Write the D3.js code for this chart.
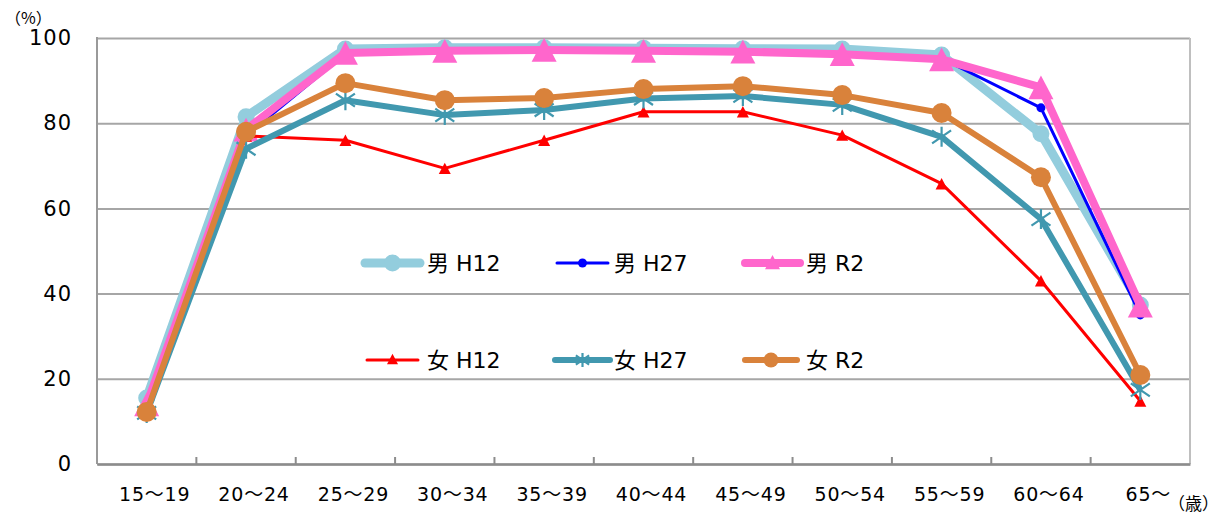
<!DOCTYPE html>
<html>
<head>
<meta charset="utf-8">
<script src="https://cdn.jsdelivr.net/npm/d3@7"></script>
<style>
  html, body { margin: 0; padding: 0; background: #fff; }
  svg { display: block; }
  text { font-family: "DejaVu Sans", "Noto Sans CJK JP", sans-serif; fill: #000; }
</style>
</head>
<body>
<svg id="chart" width="1220" height="514"></svg>
<script>
// Age groups (x axis)
const ageGroups = ["15～19", "20～24", "25～29", "30～34", "35～39", "40～44", "45～49", "50～54", "55～59", "60～64", "65～"];
const yTicks = [0, 20, 40, 60, 80, 100];

// Labour force participation rate (%) by sex and survey year
const maleH12   = [15.5, 81.5, 97.4, 97.7, 97.7, 97.6, 97.5, 97.4, 96.0, 77.5, 37.3];
const maleH27   = [14.0, 77.0, 96.3, 96.9, 97.1, 96.9, 96.7, 96.2, 95.2, 83.6, 35.0];
const maleR2    = [14.0, 78.5, 96.5, 97.0, 97.2, 97.0, 96.8, 96.2, 95.0, 88.4, 37.2];
const femaleH12 = [12.5, 77.0, 76.0, 69.4, 76.0, 82.7, 82.7, 77.2, 65.8, 43.0, 14.8];
const femaleH27 = [12.0, 74.0, 85.4, 81.9, 83.1, 85.8, 86.4, 84.3, 76.8, 57.5, 17.4];
const femaleR2  = [12.2, 78.0, 89.4, 85.4, 85.9, 88.0, 88.7, 86.6, 82.4, 67.3, 20.9];

const series = [
  { name: "男 H12", values: maleH12,   color: "#93cddd", width: 9, marker: "circle",   size: 8.5, legendSize: 8.5 },
  { name: "男 H27", values: maleH27,   color: "#0000ff", width: 3, marker: "circle",   size: 4.5, legendSize: 4.5 },
  { name: "男 R2",  values: maleR2,    color: "#ff66cc", width: 8, marker: "triangle", size: 25,  legendSize: 15 },
  { name: "女 H12", values: femaleH12, color: "#ff0000", width: 3, marker: "triangle", size: 12,  legendSize: 11 },
  { name: "女 H27", values: femaleH27, color: "#4198af", width: 6, marker: "asterisk", size: 10,  legendSize: 7 },
  { name: "女 R2",  values: femaleR2,  color: "#d9823b", width: 6, marker: "circle",   size: 10,  legendSize: 7.5 }
];

const svg = d3.select("#chart");
const plot = { left: 97, right: 1190, top: 38, bottom: 464 };

const x = d3.scaleBand().domain(ageGroups).range([plot.left, plot.right]).paddingInner(0).paddingOuter(0);
const y = d3.scaleLinear().domain([0, 100]).range([plot.bottom, plot.top]);
const cx = d => x(d) + x.bandwidth() / 2;

// Horizontal gridlines and y tick labels
const yAxis = d3.axisLeft(y).tickValues(yTicks).tickSize(-(plot.right - plot.left)).tickPadding(25);
const gy = svg.append("g").attr("transform", `translate(${plot.left},0)`).call(yAxis);
gy.select(".domain").remove();
gy.selectAll(".tick line").attr("stroke", "#a6a6a6").attr("stroke-width", 2);
gy.selectAll(".tick text")
  .attr("font-size", 21)
  .attr("letter-spacing", 1)
  .style("font-family", "'DejaVu Sans', sans-serif");

// Plot frame (right edge)
svg.append("line")
  .attr("x1", plot.right).attr("x2", plot.right)
  .attr("y1", plot.top).attr("y2", plot.bottom)
  .attr("stroke", "#bfbfbf").attr("stroke-width", 2);

// Left axis line
svg.append("line")
  .attr("x1", plot.left).attr("x2", plot.left)
  .attr("y1", plot.top - 1).attr("y2", plot.bottom)
  .attr("stroke", "#9a9a9a").attr("stroke-width", 2);

// Bottom axis with category-boundary tick marks pointing up
const gx = svg.append("g").attr("transform", `translate(0,${plot.bottom})`)
  .call(d3.axisBottom(x).tickSize(0).tickPadding(24));
gx.select(".domain").attr("stroke", "#8c8c8c").attr("stroke-width", 2.5);
gx.selectAll(".tick text")
  .attr("font-size", 19)
  .attr("dx", 8)
  .attr("letter-spacing", 0.8);

const boundaries = ageGroups.slice(1).map(d => x(d));
svg.append("g").selectAll("line").data(boundaries).join("line")
  .attr("x1", d => d).attr("x2", d => d)
  .attr("y1", plot.bottom - 7).attr("y2", plot.bottom)
  .attr("stroke", "#8c8c8c").attr("stroke-width", 2);

// Unit labels
svg.append("text").attr("x", 5).attr("y", 24).attr("font-size", 16)
  .style("font-family", "'Noto Sans CJK JP', sans-serif").text("（%）");
svg.append("text").attr("x", 1168).attr("y", 510).attr("font-size", 17)
  .style("font-family", "'Noto Sans CJK JP', sans-serif").text("（歳）");

// Marker drawing
function drawMarker(g, type, px, py, s, color) {
  if (type === "circle") {
    g.append("circle").attr("cx", px).attr("cy", py).attr("r", s).attr("fill", color);
  } else if (type === "triangle") {
    const h = s * 0.95;
    g.append("path")
      .attr("d", `M${px},${py - h / 2}L${px + s / 2},${py + h / 2}L${px - s / 2},${py + h / 2}Z`)
      .attr("fill", color);
  } else if (type === "asterisk") {
    const a = s, dx = s * 0.95, dy = s * 0.65;
    g.append("path")
      .attr("d", `M${px},${py - a}L${px},${py + a}M${px - dx},${py - dy}L${px + dx},${py + dy}M${px - dx},${py + dy}L${px + dx},${py - dy}`)
      .attr("stroke", color).attr("stroke-width", 2.2).attr("fill", "none");
  }
}

const line = d3.line().x((d, i) => cx(ageGroups[i])).y(d => y(d)).curve(d3.curveLinear);

// Series lines and markers, in drawing order
series.forEach(s => {
  const g = svg.append("g");
  g.append("path")
    .attr("d", line(s.values))
    .attr("fill", "none")
    .attr("stroke", s.color)
    .attr("stroke-width", s.width)
    .attr("stroke-linejoin", "round");
  s.values.forEach((v, i) => drawMarker(g, s.marker, cx(ageGroups[i]), y(v), s.size, s.color));
});

// Legend: two rows of three entries
const legendItems = [
  { x0: 365, x1: 420, tx: 427, y: 263 },
  { x0: 557, x1: 608, tx: 614, y: 263 },
  { x0: 745, x1: 800, tx: 806, y: 263 },
  { x0: 367, x1: 418, tx: 427, y: 360 },
  { x0: 555, x1: 610, tx: 614, y: 360 },
  { x0: 745, x1: 797, tx: 806, y: 360 }
];
const legend = svg.append("g");
series.forEach((s, i) => {
  const L = legendItems[i];
  legend.append("line")
    .attr("x1", L.x0).attr("x2", L.x1).attr("y1", L.y).attr("y2", L.y)
    .attr("stroke", s.color).attr("stroke-width", s.width).attr("stroke-linecap", "round");
  const mx = (L.x0 + L.x1) / 2;
  const my = s.marker === "triangle" ? L.y - 1 : L.y;
  drawMarker(legend, s.marker, mx, my, s.legendSize, s.color);
  legend.append("text")
    .attr("x", L.tx).attr("y", L.y).attr("dy", "0.36em")
    .attr("font-size", 22)
    .text(s.name);
});
</script>
</body>
</html>
